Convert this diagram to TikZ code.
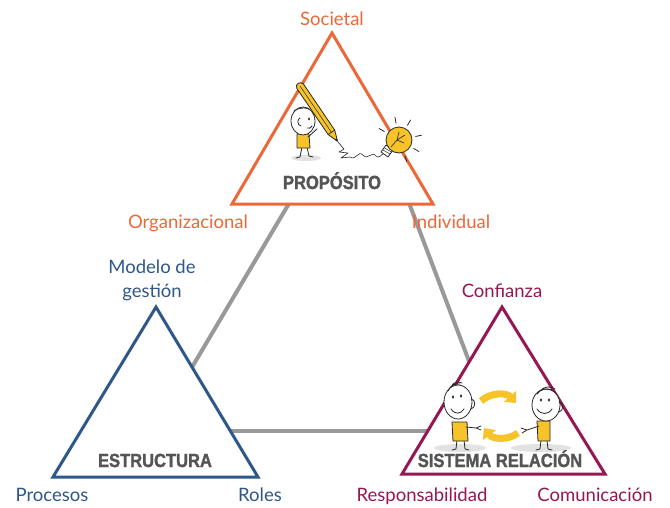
\documentclass[tikz,border=0pt]{standalone}
\usepackage{fontspec}
\setmainfont{Lato}
\newfontfamily\heavyfont[BoldFeatures={FakeBold=1.6}]{Liberation Sans}
\usetikzlibrary{arrows.meta,calc}

\definecolor{propC}{RGB}{236,104,56}
\definecolor{estC}{RGB}{46,88,137}
\definecolor{relC}{RGB}{150,24,82}
\definecolor{linkC}{RGB}{153,153,153}
\definecolor{titleC}{RGB}{85,85,85}
\definecolor{ink}{RGB}{40,40,40}
\definecolor{sunC}{RGB}{246,196,40}
\definecolor{shadowC}{RGB}{226,226,226}

\tikzset{
  tri/.style={line width=3pt, line join=miter, fill=white},
  link/.style={line width=4pt, linkC},
  lbl/.style={font=\fontsize{18.5}{22}\selectfont, inner sep=0pt, anchor=base},
  ttl/.style={font=\heavyfont\bfseries\fontsize{19}{21}\selectfont, text=titleC, inner sep=0pt, anchor=base},
  sketch/.style={ink, line width=0.8pt, line cap=round, line join=round},
  swap arrow/.style={sunC, line width=7pt, -{Triangle[length=9pt,width=16pt]}},
}

\begin{document}
\begin{tikzpicture}[x=1pt,y=-1pt]
\useasboundingbox (0,0) rectangle (670,507);
\fill[white] (0,0) rectangle (670,507);

% ---- corner points of the three triangles
\coordinate (pTop) at (332,33);
\coordinate (pLeft) at (232,204);
\coordinate (pRight) at (433,204);
\coordinate (eTop) at (156,307);
\coordinate (eLeft) at (53,477);
\coordinate (eRight) at (258,477);
\coordinate (rTop) at (502,307);
\coordinate (rLeft) at (402,474);
\coordinate (rRight) at (605,474);

% ---- grey links (ends tucked under the white triangles)
\coordinate (gPL) at (294,195);
\coordinate (gEP) at (188,374);
\coordinate (gPR) at (406,195);
\coordinate (gRP) at (472,369);
\coordinate (gER) at (222,431);
\coordinate (gRE) at (436,431);
\draw[link] (gPL) -- (gEP);
\draw[link] (gPR) -- (gRP);
\draw[link] (gER) -- (gRE);

% ---- triangles
\draw[tri, draw=propC] (pTop) -- (pLeft) -- (pRight) -- cycle;
\draw[tri, draw=estC] (eTop) -- (eLeft) -- (eRight) -- cycle;
\draw[tri, draw=relC] (rTop) -- (rLeft) -- (rRight) -- cycle;

% ---- pencil drawer
\fill[shadowC] (306,158) ellipse (15 and 3);
\draw[sketch] (302,147) -- (300,157) -- (296,158);
\draw[sketch] (307,147) -- (309,156) -- (313,157);
\filldraw[sketch, fill=sunC] (297,134) -- (309,134) -- (310,148) -- (297,148) -- cycle;
\draw[sketch] (308,137) -- (317,129);
\filldraw[sketch, fill=white] (303,121) ellipse (12 and 14);
\draw[sketch] (294,111) .. controls (298,108) and (304,107) .. (309,109);
\draw[sketch] (300,118) .. controls (297,119) and (297,125) .. (301,126);
\fill[ink] (309,119) ellipse (1 and 1.6);
\draw[sketch] (307,128) .. controls (309,129) and (311,128) .. (312,126);
% pencil
\filldraw[sketch, fill=sunC] (296.7,88.2) -- (328.1,134.5) -- (337.6,141.4) -- (334.7,130.1) -- (303.3,83.8)
   .. controls (300,81) and (295,84) .. cycle;
\draw[sketch, line width=0.5pt] (300,86) -- (331.4,132.3);
\draw[sketch] (328.1,134.5) -- (334.7,130.1);
\fill[ink] (337.6,141.4) -- (334.9,139.6) -- (336.8,138.4) -- cycle;
% scribble towards the bulb
\draw[sketch, line width=0.6pt] (338,142) -- (344,149) -- (339,152) -- (348,153) -- (341,158) -- (350,157)
   .. controls (356,161) and (358,150) .. (363,155)
   .. controls (368,161) and (372,150) .. (376,156)
   .. controls (379,159) and (381,155) .. (384,153);
% light bulb
\coordinate (bulb) at (399,140);
\foreach \a in {-100,-60,-12,30,70,-150}
  \draw[sketch] ($(bulb)+(\a:17)$) -- ($(bulb)+(\a:23)$);
\filldraw[sketch, fill=white] (381,152) -- (386,145) -- (393,150) -- (388,157) -- cycle;
\draw[sketch, line width=0.5pt] (383,150) -- (390,154) (384.5,148) -- (391.5,152);
\filldraw[sketch, fill=sunC] (bulb) circle (13);
\draw[sketch, line width=0.6pt] (391,147) -- (397,140) -- (399,132) (397,140) -- (405,135) (397,140) -- (404,143);

% ---- two people exchanging
\fill[shadowC] (460,448) ellipse (26 and 4);
\fill[shadowC] (541,448) ellipse (30 and 4);
% left person
\draw[sketch] (457,440) -- (456,449) -- (452,450);
\draw[sketch] (464,440) -- (465,449) -- (469,450);
\filldraw[sketch, fill=sunC] (452,422) -- (467,422) -- (468,441) -- (453,441) -- cycle;
\draw[sketch] (466,427) -- (476,428) -- (481,426) (476,428) -- (481,430);
\filldraw[sketch, fill=white] (458,402) ellipse (14 and 17);
\draw[sketch] (471,399) .. controls (476,399) and (476,408) .. (471,409);
\draw[sketch] (448,391) .. controls (450,385) and (456,383) .. (460,384)
              (451,387) .. controls (453,382) and (458,381) .. (462,383);
\fill[ink] (453,397) ellipse (1.1 and 1.8);
\fill[ink] (461,396) ellipse (1.1 and 1.8);
\draw[sketch] (451,409) .. controls (455,415) and (461,414) .. (464,409);
% right person
\draw[sketch] (541,440) -- (540,449) -- (536,450);
\draw[sketch] (547,440) -- (548,449) -- (552,450);
\filldraw[sketch, fill=sunC] (537,421) -- (550,421) -- (550,441) -- (538,441) -- cycle;
\draw[sketch] (539,426) -- (527,430) -- (521,428) (527,430) -- (522,433);
\filldraw[sketch, fill=white] (546,405) ellipse (14 and 16);
\draw[sketch] (559,402) .. controls (564,402) and (564,411) .. (559,412);
\draw[sketch] (537,394) .. controls (540,389) and (547,388) .. (552,390)
              (540,391) .. controls (544,386) and (551,386) .. (555,389);
\fill[ink] (541,400) ellipse (1.1 and 1.8);
\fill[ink] (549,400) ellipse (1.1 and 1.8);
\draw[sketch] (537,409) .. controls (541,415) and (548,415) .. (552,409);
% exchange arrows
\draw[swap arrow] (481,401) to[bend left=45] (516,403);
\draw[swap arrow] (518,433) to[bend left=45] (484,428);

% ---- titles
\node[ttl] (tProp) at (332,189) {\scalebox{0.87}[1]{PROPÓSITO}};
\node[ttl] (tEst) at (155,467) {\scalebox{0.87}[1]{ESTRUCTURA}};
\node[ttl] (tRel) at (500,467) {\scalebox{0.87}[1]{SISTEMA RELACIÓN}};

% ---- corner labels
\node[lbl, text=propC] (lSoc) at (332,25) {Societal};
\node[lbl, text=propC] (lOrg) at (188,228) {Organizacional};
\node[lbl, text=propC] (lInd) at (451,228) {Individual};
\node[lbl, text=estC] (lMod) at (152,273) {Modelo de};
\node[lbl, text=estC] (lGes) at (152,297) {gestión};
\node[lbl, text=estC] (lPro) at (52,501) {Procesos};
\node[lbl, text=estC] (lRol) at (260,501) {Roles};
\node[lbl, text=relC] (lCon) at (502,297) {Confianza};
\node[lbl, text=relC] (lRes) at (422,501) {Responsabilidad};
\node[lbl, text=relC] (lCom) at (595,501) {Comunicación};
\end{tikzpicture}
\end{document}
